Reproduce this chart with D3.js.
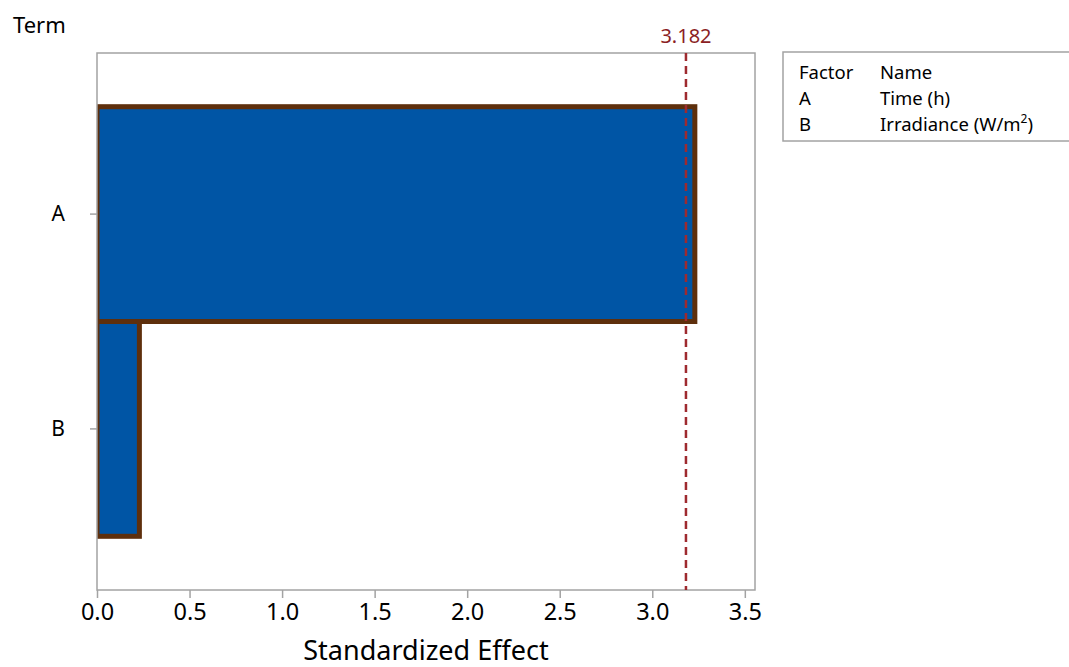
<!DOCTYPE html>
<html>
<head>
<meta charset="utf-8">
<script src="https://cdn.jsdelivr.net/npm/d3@7"></script>
<style>
  html, body { margin: 0; padding: 0; background: #fff; }
  svg { display: block; font-family: "Noto Sans", "Open Sans", sans-serif; }
</style>
</head>
<body>
<div id="chart"></div>
<script>
// Pareto chart of standardized effects
const terms = ['A', 'B'];
const effects = [3.23, 0.229];
const criticalValue = 3.182;
const xTicks = [0, 0.5, 1.0, 1.5, 2.0, 2.5, 3.0, 3.5];
const factorCodes = ['A', 'B'];
const factorNames = ['Time (h)', 'Irradiance (W/m²)'];

const width = 1069;
const height = 667;
const plot = { left: 97, top: 53, right: 755, bottom: 590 };

const svg = d3.select('#chart').append('svg')
  .attr('width', width)
  .attr('height', height);

const x = d3.scaleLinear()
  .domain([0, 3.555])
  .range([plot.left, plot.right]);
const y = d3.scaleBand()
  .domain(terms)
  .range([plot.top, plot.bottom])
  .paddingInner(0)
  .paddingOuter(0.25);

svg.append('defs').append('clipPath')
  .attr('id', 'plotClip')
  .append('rect')
  .attr('x', plot.left)
  .attr('y', plot.top - 10)
  .attr('width', plot.right - plot.left + 10)
  .attr('height', plot.bottom - plot.top + 10);

// bars
const bars = svg.append('g').attr('clip-path', 'url(#plotClip)');
bars.selectAll('rect')
  .data(terms.map((t, i) => ({ term: t, value: effects[i] })))
  .join('rect')
  .attr('x', x(0))
  .attr('y', d => y(d.term))
  .attr('width', d => x(d.value) - x(0))
  .attr('height', y.bandwidth())
  .attr('fill', '#0055a5')
  .attr('stroke', '#5e2f0c')
  .attr('stroke-width', 5);

// frame
svg.append('rect')
  .attr('x', plot.left)
  .attr('y', plot.top)
  .attr('width', plot.right - plot.left)
  .attr('height', plot.bottom - plot.top)
  .attr('fill', 'none')
  .attr('stroke', '#a3a3a3')
  .attr('stroke-width', 1.5);

// reference line
svg.append('line')
  .attr('x1', x(criticalValue))
  .attr('x2', x(criticalValue))
  .attr('y1', plot.top)
  .attr('y2', plot.bottom)
  .attr('stroke', '#9e2a2f')
  .attr('stroke-width', 2.5)
  .attr('stroke-dasharray', '8 5');
svg.append('text')
  .attr('x', x(criticalValue))
  .attr('y', 43)
  .attr('text-anchor', 'middle')
  .attr('font-size', 20)
  .attr('fill', '#8b1e24')
  .text(criticalValue.toFixed(3));

// axes
const xAxis = svg.append('g')
  .attr('transform', `translate(0,${plot.bottom})`)
  .call(d3.axisBottom(x).tickValues(xTicks).tickFormat(d3.format('.1f'))
    .tickSize(8).tickSizeOuter(0).tickPadding(5));
xAxis.select('.domain').remove();
xAxis.selectAll('line').attr('stroke', '#a3a3a3').attr('stroke-width', 1.5);
xAxis.selectAll('text').attr('font-size', 23.5).attr('fill', '#000')
  .attr('font-family', '"Noto Sans", sans-serif');

const yAxis = svg.append('g')
  .attr('transform', `translate(${plot.left},0)`)
  .call(d3.axisLeft(y).tickSize(7).tickSizeOuter(0).tickPadding(25));
yAxis.select('.domain').remove();
yAxis.selectAll('line').attr('stroke', '#a3a3a3').attr('stroke-width', 1.5);
yAxis.selectAll('text').attr('font-size', 21).attr('fill', '#000')
  .attr('font-family', '"Noto Sans", sans-serif');

// axis titles
svg.append('text')
  .attr('x', 13)
  .attr('y', 33)
  .attr('font-size', 22)
  .attr('fill', '#000')
  .text('Term');
svg.append('text')
  .attr('x', (plot.left + plot.right) / 2)
  .attr('y', 660)
  .attr('text-anchor', 'middle')
  .attr('font-size', 27)
  .attr('fill', '#000')
  .text('Standardized Effect');

// factor table
const legend = svg.append('g');
legend.append('rect')
  .attr('x', 783)
  .attr('y', 52)
  .attr('width', 320)
  .attr('height', 89)
  .attr('fill', '#fff')
  .attr('stroke', '#a3a3a3')
  .attr('stroke-width', 1.5);
const rows = [['Factor', 'Name']].concat(factorCodes.map((c, i) => [c, factorNames[i]]));
rows.forEach((r, i) => {
  const yy = 79 + i * 26;
  legend.append('text')
    .attr('x', 799).attr('y', yy)
    .attr('font-size', 18.5).attr('fill', '#000')
    .text(r[0]);
  const t = legend.append('text')
    .attr('x', 880).attr('y', yy)
    .attr('font-size', 18.5).attr('fill', '#000');
  const parts = r[1].split('²');
  t.append('tspan').text(parts[0]);
  if (parts.length > 1) {
    t.append('tspan').attr('dy', -8).attr('font-size', 12).text('2');
    t.append('tspan').attr('dy', 8).text(parts[1]);
  }
});
</script>
</body>
</html>
